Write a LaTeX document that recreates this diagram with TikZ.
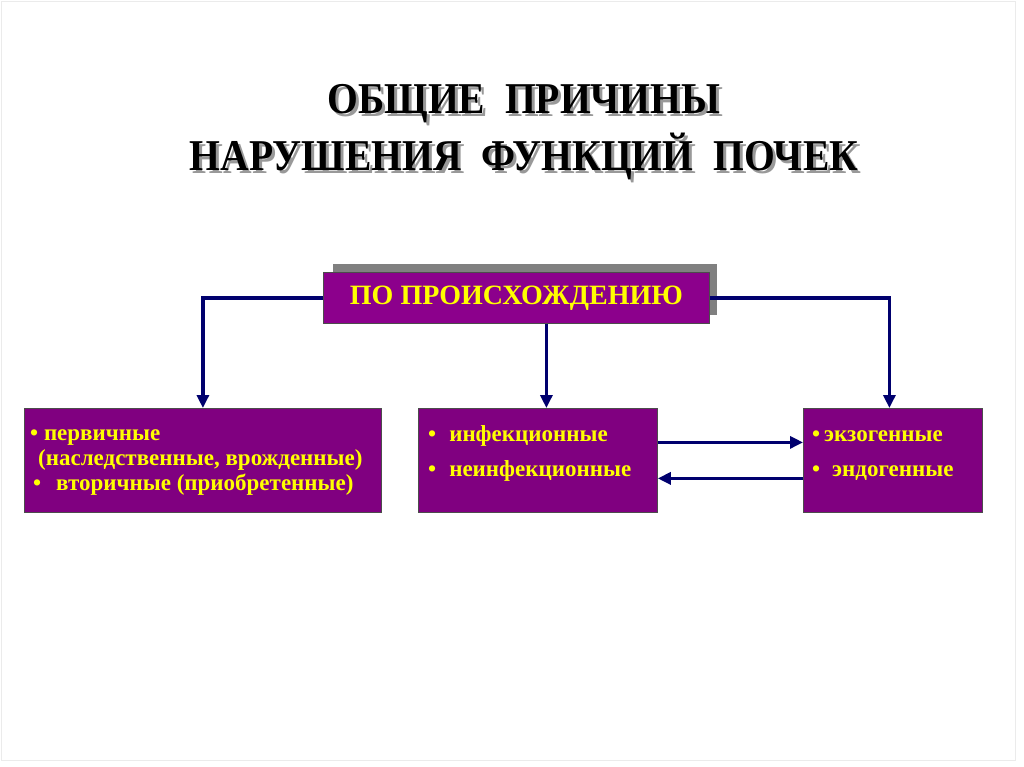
\documentclass[tikz,border=0pt]{standalone}
\usepackage{fontspec}
\setmainfont{Liberation Serif}
\newfontfamily\narrowserif[FakeStretch=0.9]{Liberation Serif}
\usetikzlibrary{arrows.meta}
\definecolor{BoxPurple}{RGB}{128,0,128}
\definecolor{TopPurple}{RGB}{140,0,140}
\definecolor{LineNavy}{RGB}{0,0,110}
\definecolor{TextYellow}{RGB}{255,255,0}
\definecolor{ShadowGrey}{RGB}{128,128,128}

\begin{document}
\begin{tikzpicture}[x=1pt, y=-1pt,
    box/.style={draw=black!70, fill=BoxPurple, line width=0.8pt, inner sep=0pt, anchor=north west},
    item/.style={text=TextYellow, font=\fontsize{23}{25}\selectfont\bfseries, anchor=base west, inner sep=0pt},
    heading/.style={font=\fontsize{44}{57}\selectfont\narrowserif\bfseries, align=center, inner sep=0pt},
    link/.style={draw=LineNavy, line width=3.2pt},
    tip/.style={link, -{Triangle[length=13pt,width=12pt]}}]
        % Page
        \fill[white] (0,0) rectangle (1024,767);
        \draw[black!8] (1,1) rectangle (1015,760);
        \useasboundingbox (0,0) rectangle (1024,767);

        % Title
        \node[heading, text=black!40] (titleshadow) at (527,135) {ОБЩИЕ\ \ ПРИЧИНЫ\\НАРУШЕНИЯ\ \ ФУНКЦИЙ\ \ ПОЧЕК};
        \node[heading] (title) at (524,132) {ОБЩИЕ\ \ ПРИЧИНЫ\\НАРУШЕНИЯ\ \ ФУНКЦИЙ\ \ ПОЧЕК};

        % Top box
        \fill[ShadowGrey] (333,264) rectangle (717,315);
        \node[box, fill=TopPurple, minimum width=386, minimum height=51, text=TextYellow,
              font=\fontsize{28}{30}\selectfont\bfseries] (origin) at (323,272) {ПО ПРОИСХОЖДЕНИЮ};

        % Lower boxes
        \node[box, minimum width=357, minimum height=104] (primary) at (24,408) {};
        \node[box, minimum width=239, minimum height=104] (infect) at (418,408) {};
        \node[box, minimum width=179, minimum height=104] (exo) at (803,408) {};

        \node[item] (prim1) at (30,440) {\textbullet\ первичные};
        \node[item] (prim2) at (38,465) {(наследственные, врожденные)};
        \node[item] (prim3) at (33,490) {\textbullet\hspace{15pt}вторичные (приобретенные)};

        \node[item] (inf1) at (428,441) {\textbullet\hspace{13pt}инфекционные};
        \node[item] (inf2) at (428,476) {\textbullet\hspace{13pt}неинфекционные};

        \node[item] (exo1) at (812,441) {\textbullet\hspace{4pt}экзогенные};
        \node[item] (exo2) at (812,476) {\textbullet\hspace{12pt}эндогенные};

        % Connectors
        \draw[tip] (origin.west) -| (primary.north);
        \draw[tip] ([xshift=30pt]origin.south) -- ([xshift=8.5pt]infect.north);
        \draw[tip] (origin.east) -| ([xshift=-3.5pt]exo.north);
        \draw[tip] ([yshift=18pt]infect.east) -- ([yshift=18pt]exo.west);
        \draw[tip] ([yshift=-18pt]exo.west) -- ([yshift=-18pt]infect.east);
\end{tikzpicture}
\end{document}
